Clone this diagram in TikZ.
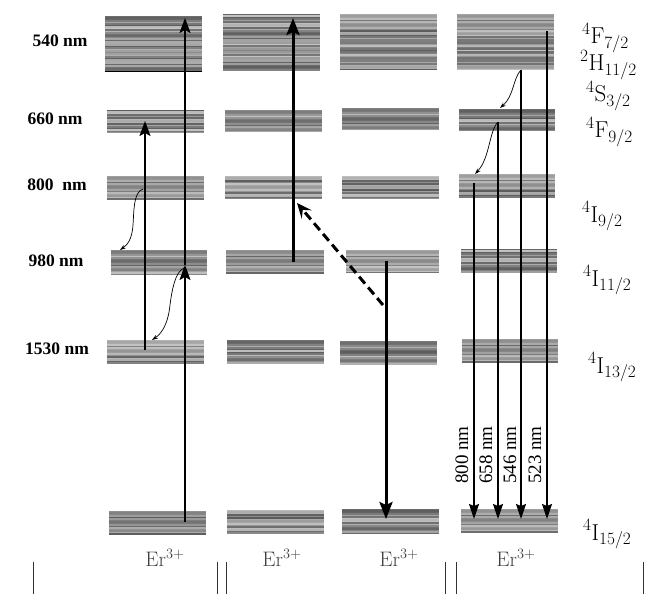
\documentclass[tikz,border=0pt]{standalone}
\usepackage{fontspec}
\newfontfamily\timesf{Liberation Serif}
\usetikzlibrary{arrows.meta}
\newcommand\Band[6]{\node[band=#6, minimum width={#4-#2}, minimum height={#5-#3}] (#1) at ({(#2+#4)/2},{(#3+#5)/2}) {};}
\begin{document}
\begin{tikzpicture}[x=1pt,y=-1pt,
  band/.style={inner sep=0pt, outer sep=0pt, fill=black!45,
    path picture={
      \foreach \k in {0,...,38}{
        \pgfmathtruncatemacro\sh{24+mod(mod(\k*\k,97)*17+\k*29+#1*11,41)}
        \draw[black!\sh, line width=1.6pt]
          ([yshift={-\k*1.5pt-0.75pt}]path picture bounding box.north west) --
          ([yshift={-\k*1.5pt-0.75pt}]path picture bounding box.north east);
      }}},
  lvl/.style={font=\timesf\bfseries\fontsize{17.5}{20}\selectfont, text=black},
  term/.style={font=\fontsize{23}{27}\selectfont, text=black, inner sep=0pt, anchor=base west},
  er/.style={font=\fontsize{21}{25}\selectfont, text=black!75, inner sep=0pt, anchor=base},
  wl/.style={font=\timesf\fontsize{19}{22}\selectfont, rotate=90, inner sep=0pt},
  pump/.style={line width=2pt, -{Stealth[length=15pt,width=11pt,inset=3pt]}},
  pumpthick/.style={line width=3pt, -{Stealth[length=17pt,width=13pt,inset=3pt]}},
  emit/.style={line width=1.6pt, -{Stealth[length=15pt,width=10pt,inset=2pt]}},
  etdash/.style={line width=3pt, dash pattern=on 9pt off 5pt, -{Stealth[length=15pt,width=13pt,inset=6pt]}},
  relax/.style={line width=0.7pt, -{Stealth[length=6pt,width=4pt]}},
  sep/.style={line width=0.9pt, black!80}
]
\useasboundingbox (0,0) rectangle (646,594);

% ---- column 1
\Band{a0}{105}{16}{202}{72}{3}
\Band{a1}{107}{110}{204}{133}{11}
\Band{a2}{107}{176}{204}{199}{5}
\Band{a3}{111}{250}{207}{274}{17}
\Band{a4}{107}{340}{204}{363}{8}
\Band{a5}{109}{511}{206}{534}{13}
\draw[line width=1pt] (a0.south west) -- (a0.south east);
% ---- column 2
\Band{b0}{223}{14}{320}{71}{7}
\Band{b1}{225}{110}{322}{132}{2}
\Band{b2}{225}{176}{322}{198}{19}
\Band{b3}{226}{250}{324}{273}{9}
\Band{b4}{227}{340}{324}{363}{14}
\Band{b5}{227}{510}{324}{533}{4}
% ---- column 3
\Band{c0}{340}{14}{437}{70}{12}
\Band{c1}{342}{108}{439}{130}{6}
\Band{c2}{342}{176}{439}{198}{15}
\Band{c3}{346}{250}{439}{272}{1}
\Band{c4}{340}{341}{437}{364}{10}
\Band{c5}{342}{509}{439}{533}{18}
% ---- column 4
\Band{d0}{457}{14}{554}{70}{16}
\Band{d1}{459}{109}{555}{131}{3}
\Band{d2}{459}{174}{555}{197}{12}
\Band{d3}{461}{249}{557}{272}{7}
\Band{d4}{462}{339}{558}{362}{20}
\Band{d5}{461}{509}{558}{532}{5}

% ---- left labels
\node[lvl] (l540)  at (60,41)  {540 nm};
\node[lvl] (l660)  at (55,119) {660 nm};
\node[lvl] (l800)  at (57,185) {800\ \ nm};
\node[lvl] (l980)  at (56,261) {980 nm};
\node[lvl] (l1530) at (57,349) {1530 nm};

% ---- right term labels
\node[term] (tF7)  at (582,44)  {$^4$F$_{7/2}$};
\node[term] (tH11) at (580,71)  {$^2$H$_{11/2}$};
\node[term] (tS3)  at (586,102) {$^4$S$_{3/2}$};
\node[term] (tF9)  at (586,138) {$^4$F$_{9/2}$};
\node[term] (tI9)  at (582,222) {$^4$I$_{9/2}$};
\node[term] (tI11) at (583,286) {$^4$I$_{11/2}$};
\node[term] (tI13) at (588,373) {$^4$I$_{13/2}$};
\node[term] (tI15) at (583,540) {$^4$I$_{15/2}$};

% ---- Er labels
\node[er] (e1) at (165,566) {Er$^{3+}$};
\node[er] (e2) at (282,566) {Er$^{3+}$};
\node[er] (e3) at (399,566) {Er$^{3+}$};
\node[er] (e4) at (516,566) {Er$^{3+}$};

% ---- separators
\draw[sep] (33,562) -- (33,594);
\draw[sep] (217,562) -- (217,594);
\draw[sep] (226,562) -- (226,594);
\draw[sep] (445,562) -- (445,594);
\draw[sep] (456,562) -- (456,594);
\draw[sep] (643,562) -- (643,594);

% ---- coordinates
\coordinate (p1s) at (185,522);
\coordinate (p1m) at (185,265);
\coordinate (p1t) at (185,18);
\coordinate (p2s) at (145,350);
\coordinate (p2t) at (145,121);
\coordinate (r1s) at (143,189);
\coordinate (r1t) at (120,250);
\coordinate (r2s) at (184,268);
\coordinate (r2t) at (152,340);
\coordinate (q1s) at (293,262);
\coordinate (q1t) at (293,18);
\coordinate (ds) at (383,305);
\coordinate (dt) at (297,203);
\coordinate (k1s) at (386,261);
\coordinate (k1t) at (386,519);
\coordinate (m1s) at (474,183);
\coordinate (m1t) at (474,519);
\coordinate (m2s) at (498,122);
\coordinate (m2t) at (498,519);
\coordinate (m3s) at (521,70);
\coordinate (m3t) at (521,519);
\coordinate (m4s) at (547,31);
\coordinate (m4t) at (547,519);
\coordinate (w1t) at (500,108);
\coordinate (w2t) at (475,174);

% ---- column 1 arrows
\draw[pump] (p1s) -- (p1m);
\draw[pump] (p1m) -- (p1t);
\draw[pump] (p2s) -- (p2t);
\draw[relax] (r1s) .. controls (133,192) and (134,213) .. (133,225) .. controls (132,240) and (127,245) .. (r1t);
\draw[relax] (r2s) .. controls (175,272) and (172,290) .. (170,305) .. controls (168,325) and (161,334) .. (r2t);
% ---- column 2 / 3
\draw[pumpthick] (q1s) -- (q1t);
\draw[etdash] (ds) -- (dt);
\draw[pumpthick] (k1s) -- (k1t);
% ---- column 4
\draw[emit] (m1s) -- (m1t);
\draw[emit] (m2s) -- (m2t);
\draw[emit] (m3s) -- (m3t);
\draw[emit] (m4s) -- (m4t);
\draw[relax] (m3s) .. controls (513,78) and (514,96) .. (w1t);
\draw[relax] (m2s) .. controls (489,131) and (490,158) .. (w2t);

% ---- emission wavelengths
\node[wl] (n800) at (462,455) {800 nm};
\node[wl] (n658) at (486,455) {658 nm};
\node[wl] (n546) at (510,455) {546 nm};
\node[wl] (n523) at (535,455) {523 nm};
\end{tikzpicture}
\end{document}
